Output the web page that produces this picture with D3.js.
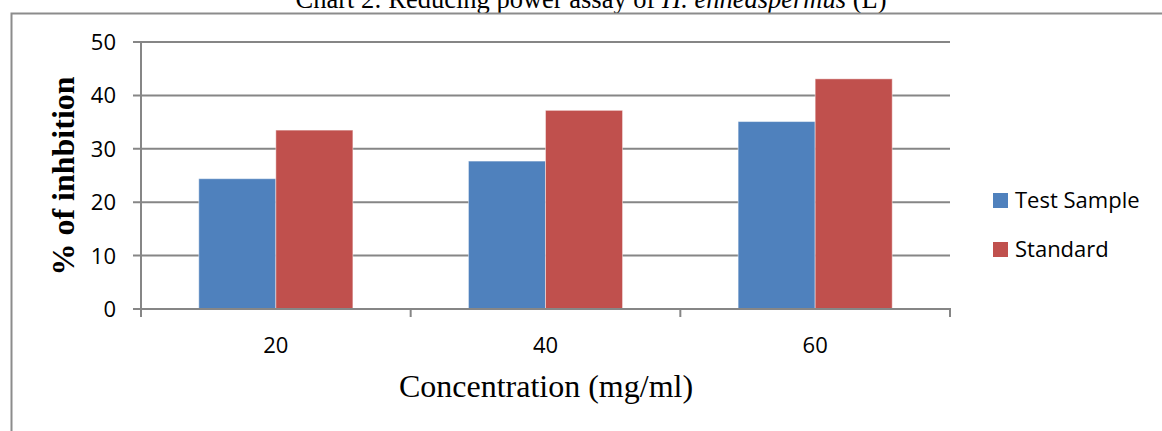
<!DOCTYPE html>
<html>
<head>
<meta charset="utf-8">
<script src="https://cdn.jsdelivr.net/npm/d3@7"></script>
<style>
  body { margin: 0; background: #fff; }
  svg { display: block; }
</style>
</head>
<body>
<svg id="chart" width="1162" height="431"></svg>
<script>
// data
const categories = ["20", "40", "60"];
const seriesNames = ["Test Sample", "Standard"];
const testSample = [24.4, 27.7, 35.1];
const standard = [33.5, 37.2, 43.1];
const yTicks = [0, 10, 20, 30, 40, 50];

const colors = ["#4f81bd", "#c0504d"];
const gridColor = "#868686";

const svg = d3.select("#chart");

const plot = { left: 141, right: 950, top: 42, bottom: 309 };

const x = d3
  .scaleBand()
  .domain(categories)
  .range([plot.left, plot.right])
  .paddingInner(0)
  .paddingOuter(0);

// excel style gap width 150%
const gap = 1.5;
const barW = x.bandwidth() / (seriesNames.length + gap);

const y = d3.scaleLinear().domain([0, 50]).range([plot.bottom, plot.top]);

// title (clipped at the top in the source, the frame sits on its descenders)
svg
  .append("text")
  .attr("x", 591)
  .attr("y", 8)
  .attr("text-anchor", "middle")
  .attr("font-family", "Liberation Serif")
  .attr("font-size", "26.5px")
  .attr("fill", "#000")
  .call((t) => {
    t.append("tspan").text("Chart 2: Reducing power assay of ");
    t.append("tspan").attr("font-style", "italic").text("H. enneaspermus");
    t.append("tspan").text(" (L)");
  });

// outer frame
svg
  .append("rect")
  .attr("x", 0)
  .attr("y", 13)
  .attr("width", 1162)
  .attr("height", 418)
  .attr("fill", "#fff");

svg
  .append("path")
  .attr("d", `M11.5,431 V13.5 H1162`)
  .attr("fill", "none")
  .attr("stroke", "#8c8c8c")
  .attr("stroke-width", 2);

// gridlines
svg
  .append("g")
  .selectAll("line")
  .data(yTicks)
  .enter()
  .append("line")
  .attr("x1", plot.left - 8)
  .attr("x2", plot.right)
  .attr("y1", (d) => y(d))
  .attr("y2", (d) => y(d))
  .attr("stroke", gridColor)
  .attr("stroke-width", 2);

// y axis line
svg
  .append("line")
  .attr("x1", plot.left)
  .attr("x2", plot.left)
  .attr("y1", plot.top)
  .attr("y2", plot.bottom + 1)
  .attr("stroke", gridColor)
  .attr("stroke-width", 2);

// y tick labels
svg
  .append("g")
  .selectAll("text")
  .data(yTicks)
  .enter()
  .append("text")
  .attr("x", 116)
  .attr("y", (d) => y(d) + 8)
  .attr("text-anchor", "end")
  .attr("font-family", "Open Sans")
  .attr("font-size", "22px")
  .attr("fill", "#000")
  .text((d) => d);

// bars
const values = [testSample, standard];
seriesNames.forEach((name, si) => {
  svg
    .append("g")
    .selectAll("rect")
    .data(categories)
    .enter()
    .append("rect")
    .attr("x", (d) => x(d) + (gap / 2) * barW + si * barW)
    .attr("y", (d, i) => y(values[si][i]))
    .attr("width", barW)
    .attr("height", (d, i) => y(0) - y(values[si][i]))
    .attr("fill", colors[si])
    .attr("stroke", "rgba(255,255,255,0.45)")
    .attr("stroke-width", 1);
});

// x axis line + ticks at band edges
svg
  .append("line")
  .attr("x1", plot.left)
  .attr("x2", plot.right + 1)
  .attr("y1", plot.bottom)
  .attr("y2", plot.bottom)
  .attr("stroke", gridColor)
  .attr("stroke-width", 2);

const edges = categories.map((c) => x(c)).concat([plot.right]);
svg
  .append("g")
  .selectAll("line")
  .data(edges)
  .enter()
  .append("line")
  .attr("x1", (d) => d)
  .attr("x2", (d) => d)
  .attr("y1", plot.bottom)
  .attr("y2", plot.bottom + 8)
  .attr("stroke", gridColor)
  .attr("stroke-width", 2);

// category labels
svg
  .append("g")
  .selectAll("text")
  .data(categories)
  .enter()
  .append("text")
  .attr("x", (d) => x(d) + x.bandwidth() / 2)
  .attr("y", 353)
  .attr("text-anchor", "middle")
  .attr("font-family", "Open Sans")
  .attr("font-size", "22px")
  .attr("fill", "#000")
  .text((d) => d);

// axis titles
svg
  .append("text")
  .attr("x", 546)
  .attr("y", 397)
  .attr("text-anchor", "middle")
  .attr("font-family", "Liberation Serif")
  .attr("font-size", "32px")
  .attr("fill", "#000")
  .text("Concentration (mg/ml)");

svg
  .append("text")
  .attr("transform", "translate(74,176) rotate(-90)")
  .attr("text-anchor", "middle")
  .attr("font-family", "Liberation Serif")
  .attr("font-weight", "bold")
  .attr("font-size", "32px")
  .attr("fill", "#000")
  .text("% of inhbition");

// legend
const legend = svg
  .append("g")
  .selectAll("g")
  .data(seriesNames)
  .enter()
  .append("g")
  .attr("transform", (d, i) => `translate(993, ${193 + i * 49})`);

legend
  .append("rect")
  .attr("width", 15)
  .attr("height", 15)
  .attr("fill", (d, i) => colors[i]);

legend
  .append("text")
  .attr("x", 22)
  .attr("y", 15)
  .attr("font-family", "Open Sans")
  .attr("font-size", "22px")
  .attr("fill", "#000")
  .text((d) => d);
</script>
</body>
</html>
